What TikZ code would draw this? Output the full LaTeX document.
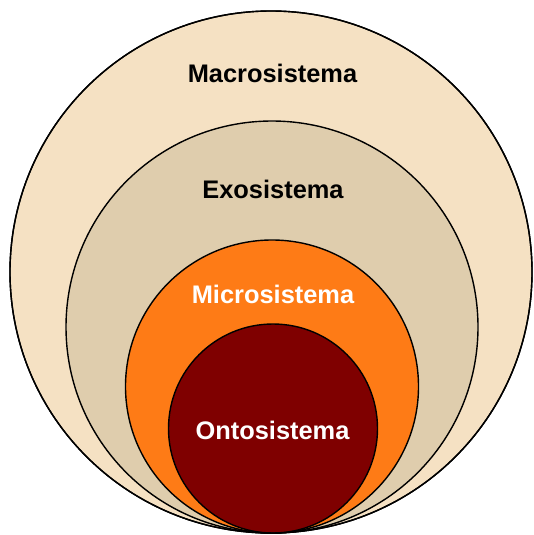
\documentclass[tikz,border=0pt]{standalone}
\usepackage{fontspec}
\setmainfont{Liberation Sans}
\definecolor{macroC}{HTML}{F5E1C3}
\definecolor{exoC}{HTML}{DFCDAD}
\definecolor{microC}{HTML}{FE7B16}
\definecolor{ontoC}{HTML}{7F0000}
\begin{document}
\begin{tikzpicture}[x=1pt,y=-1pt,
  ring/.style={draw=black,line width=1.4pt},
  lbl/.style={font=\fontsize{25.4}{30}\selectfont\bfseries,inner sep=0pt,anchor=base}]
\useasboundingbox (0,0) rectangle (534,535);
\fill[ring,fill=macroC] (271,272) circle (261);
\fill[ring,fill=exoC] (272,327) circle (206);
\fill[ring,fill=microC] (272,386.5) circle (146.5);
\fill[ring,fill=ontoC] (273,428.5) circle (104.5);
\draw[ring] (271,272) circle (261);
\node[lbl,text=black] (macro) at (272.5,82) {Macrosistema};
\node[lbl,text=black] (exo) at (273,198) {Exosistema};
\node[lbl,text=white] (micro) at (273,303) {Microsistema};
\node[lbl,text=white] (onto) at (272.5,439) {Ontosistema};
\end{tikzpicture}
\end{document}
